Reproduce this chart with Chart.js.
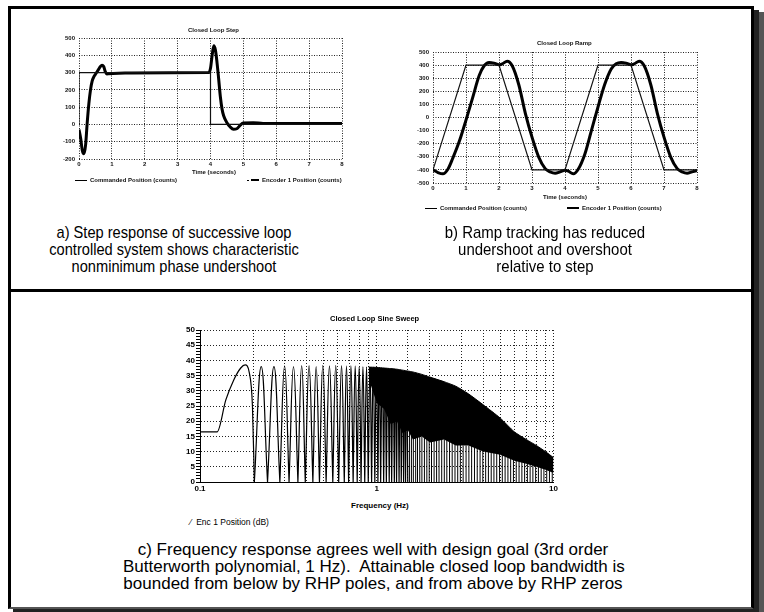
<!DOCTYPE html>
<html>
<head>
<meta charset="utf-8">
<script src="https://cdn.jsdelivr.net/npm/chart.js@4.4.0/dist/chart.umd.min.js"></script>
<style>
html, body { margin: 0; padding: 0; background: #fff; }
body { width: 764px; height: 612px; position: relative; overflow: hidden; font-family: "Liberation Sans", Arial, sans-serif; color: #000; }
#frame { position: absolute; left: 8px; top: 6px; width: 740px; height: 598px; border: 3px solid #000; border-bottom: 2px solid #555; box-shadow: 5px 4px 0 #222, 10px 6px 0 #555; }
#divider { position: absolute; left: 11px; top: 289px; width: 741px; height: 3px; background: #000; }
.cv { position: absolute; }
.cap { position: absolute; text-align: center; font-size: 17px; line-height: 17px; white-space: nowrap; transform-origin: 50% 0; }
.tiny { position: absolute; font-size: 6px; font-weight: bold; white-space: nowrap; color: #111; }
.ln { display: inline-block; vertical-align: middle; background: #000; margin-right: 3px; }
.small { position: absolute; font-size: 7.5px; font-weight: bold; white-space: nowrap; }
</style>
</head>
<body>
<div id="frame"></div>
<div id="divider"></div>

<canvas id="step" class="cv" width="310" height="158" style="left:40px;top:22px"></canvas>
<canvas id="ramp" class="cv" width="310" height="159" style="left:395px;top:36px"></canvas>
<canvas id="sweep" class="cv" width="400" height="176" style="left:160px;top:322px"></canvas>

<div class="tiny" style="left:188px;top:27px">Closed Loop Step</div>
<div class="tiny" style="left:192px;top:169px">Time (seconds)</div>
<div class="tiny" style="left:75px;top:177px"><span class="ln" style="width:12px;height:1px"></span>Commanded Position (counts)</div>
<div class="tiny" style="left:247px;top:177px"><span class="ln" style="width:2px;height:1px;margin-right:2px"></span><span class="ln" style="width:8px;height:2px"></span>Encoder 1 Position (counts)</div>

<div class="tiny" style="left:537px;top:40px">Closed Loop Ramp</div>
<div class="tiny" style="left:543px;top:194px">Time (seconds)</div>
<div class="tiny" style="left:425px;top:205px"><span class="ln" style="width:12px;height:1px"></span>Commanded Position (counts)</div>
<div class="tiny" style="left:567px;top:205px"><span class="ln" style="width:12px;height:2px"></span>Encoder 1 Position (counts)</div>

<div class="small" style="left:330px;top:314px">Closed Loop Sine Sweep</div>
<div class="small" style="left:351px;top:501px;font-size:8px">Frequency (Hz)</div>
<div class="small" style="left:190px;top:517px;font-size:8.5px;font-weight:normal">&#8260; &nbsp;Enc 1 Position (dB)</div>

<div class="cap" style="left:24px;top:224px;width:300px;transform:scaleX(0.86)">a) Step response of successive loop<br>controlled system shows characteristic<br>nonminimum phase undershoot</div>
<div class="cap" style="left:395px;top:224px;width:300px;transform:scaleX(0.88)">b) Ramp tracking has reduced<br>undershoot and overshoot<br>relative to step</div>
<div class="cap" style="left:123px;top:541px;width:500px">c) Frequency response agrees well with design goal (3rd order<br>Butterworth polynomial, 1 Hz).&nbsp; Attainable closed loop bandwidth is<br>bounded from below by RHP poles, and from above by RHP zeros</div>

<script>
// ===== DATA =====
// a) closed loop step
const stepCmdTime = [0, 0, 4, 4, 8];
const stepCmdPos = [0, 300, 300, 0, 0];
const stepEncTime = [0, 0.05, 0.1, 0.15, 0.2, 0.25, 0.3, 0.35, 0.4, 0.45, 0.5, 0.55, 0.6, 0.65, 0.7, 0.75, 0.8, 0.85, 0.9, 1.4, 1.5, 3.95, 4.0, 4.05, 4.1, 4.15, 4.2, 4.25, 4.3, 4.35, 4.4, 4.5, 4.6, 4.7, 4.8, 4.9, 5.0, 5.3, 5.6, 8];
const stepEncPos = [-30, -80, -150, -170, -120, 10, 120, 200, 250, 275, 290, 305, 320, 335, 343, 335, 305, 292, 293, 297, 298, 300, 325, 400, 455, 430, 355, 260, 160, 90, 50, 10, -15, -28, -25, -5, 8, 10, 6, 5];

// b) closed loop ramp
const rampCmdTime = [0, 1, 2, 3, 4, 5, 6, 7, 8];
const rampCmdPos = [-400, 400, 400, -400, -400, 400, 400, -400, -400];
const rampEncTime = [0, 0.15, 0.3, 0.45, 0.6, 0.8, 1.0, 1.2, 1.4, 1.55, 1.7, 1.85, 2.0, 2.1, 2.25, 2.4, 2.6, 2.8, 3.0, 3.2, 3.4, 3.55, 3.7, 3.85, 4.0, 4.1, 4.25, 4.4, 4.6, 4.8, 5.0, 5.2, 5.4, 5.55, 5.7, 5.85, 6.0, 6.1, 6.25, 6.4, 6.6, 6.8, 7.0, 7.2, 7.4, 7.55, 7.7, 7.85, 8.0];
const rampEncPos = [-400, -420, -430, -395, -310, -180, -20, 150, 320, 395, 420, 415, 402, 410, 430, 395, 250, 30, -150, -300, -390, -415, -425, -415, -402, -410, -430, -395, -280, -100, 80, 250, 370, 410, 420, 415, 402, 410, 430, 395, 250, 30, -150, -300, -390, -415, -425, -415, -405];

// c) closed loop sine sweep
const firstLobeHz = [0.1, 0.125, 0.14, 0.155, 0.17, 0.18, 0.19, 0.198, 0.203];
const firstLobeDb = [16.5, 16.5, 27, 33.5, 37.5, 38.5, 36, 25, 0];
const lobeZeroHz = [0.203, 0.241, 0.283, 0.319, 0.358, 0.394, 0.435, 0.474, 0.517, 0.564, 0.609, 0.655, 0.693, 0.735, 0.775, 0.815, 0.855, 0.895, 0.935, 0.975, 1.015, 1.052, 1.094, 1.133, 1.176, 1.214, 1.257, 1.294, 1.337, 1.376, 1.418, 1.455, 1.497];
const lobePeakHz = [0.222, 0.262, 0.301, 0.338, 0.376, 0.414, 0.454, 0.495, 0.540, 0.586, 0.632, 0.674, 0.714, 0.755, 0.795, 0.835, 0.875, 0.915, 0.955, 0.995, 1.033, 1.073, 1.113, 1.155, 1.195, 1.236, 1.275, 1.316, 1.357, 1.397, 1.437, 1.476];
const lobePeakDb = [38, 38, 38.2, 38, 38.3, 38.3, 38, 38.4, 38.2, 38.4, 38.3, 38.2, 38.3, 38.2, 38, 38, 37.9, 37.8, 37.8, 37.7, 37.6, 37.5, 37.4, 37.3, 37.1, 37, 36.9, 36.8, 36.7, 36.6, 36.5, 36.4];
const denseHz = [0.9, 1.0, 1.1, 1.2, 1.3, 1.4, 1.5, 1.6, 1.8, 2.0, 2.4, 2.8, 3.3, 4.0, 5.0, 6.0, 7.0, 8.0, 9.0, 10];
const denseTopDb = [37.8, 37.7, 37.5, 37.3, 37.1, 36.8, 36.5, 36.2, 35.4, 34.5, 33, 31.5, 29, 25.4, 21, 16.5, 14, 12, 10, 8];
const denseLowDb = [34, 26, 24, 19, 20, 16, 17, 14, 15, 13, 14, 12, 12, 10, 9, 7, 6, 5, 4, 3];
const spikeHz = [1.53, 1.57, 1.61, 1.66, 1.70, 1.75, 1.80, 1.86, 1.92, 1.98, 2.04, 2.11, 2.18, 2.25, 2.33, 2.41, 2.49, 2.58, 2.67, 2.77, 2.87, 2.97, 3.08, 3.2, 3.32, 3.44, 3.57, 3.7, 3.84, 3.98, 4.13, 4.28, 4.44, 4.6, 4.77, 4.95, 5.13, 5.32, 5.52, 5.72, 5.93, 6.15, 6.38, 6.62, 6.86, 7.11, 7.37, 7.64, 7.92, 8.21, 8.51, 8.82, 9.15, 9.48, 9.83];
const spikeTopDb = [17, 16, 16, 15, 15, 15, 15, 15, 15, 15, 15, 15, 15, 14, 14, 14, 14, 14, 13, 13, 13, 13, 12, 12, 12, 12, 12, 11, 11, 11, 11, 11, 10, 10, 10, 10, 10, 9, 9, 9, 9, 8, 8, 8, 7, 7, 7, 6, 6, 6, 5, 5, 5, 4, 4];
const sweepLabels = [0.1, 1, 10];

// ===== HELPERS =====
const pts = (xs, ys) => xs.map((x, i) => ({ x: x, y: ys[i] }));
const dotted = '#222';

function timeChart(id, cmd, enc, yMin, yMax, yWidth, xHeight) {
    return new Chart(document.getElementById(id), {
        type: 'line',
        data: {
            datasets: [
                { data: cmd, borderColor: '#111', borderWidth: 1.2, pointRadius: 0, tension: 0 },
                { data: enc, borderColor: '#000', borderWidth: 3, pointRadius: 0, cubicInterpolationMode: 'monotone' }
            ]
        },
        options: {
            responsive: false,
            animation: false,
            layout: { padding: { top: 16, right: 8, left: 0, bottom: 0 } },
            plugins: { legend: { display: false }, tooltip: { enabled: false } },
            scales: {
                x: {
                    type: 'linear', min: 0, max: 8,
                    afterFit: s => { s.height = xHeight; },
                    ticks: { stepSize: 1, padding: 2, color: '#111', font: { size: 6, weight: 'bold' }, maxRotation: 0 },
                    grid: { color: dotted, drawTicks: false },
                    border: { display: false, dash: [1, 1.5] }
                },
                y: {
                    min: yMin, max: yMax,
                    afterFit: s => { s.width = yWidth; },
                    ticks: { stepSize: 100, padding: 4, color: '#111', font: { size: 6, weight: 'bold' } },
                    grid: { color: dotted, drawTicks: false },
                    border: { display: false, dash: [1, 1.5] }
                }
            }
        }
    });
}

timeChart('step', pts(stepCmdTime, stepCmdPos), pts(stepEncTime, stepEncPos), -200, 500, 39, 21);
timeChart('ramp', pts(rampCmdTime, rampCmdPos), pts(rampEncTime, rampEncPos), -500, 500, 38, 12);

// lobes: one arch per lobe, broken with gaps
const lobePts = [];
lobePeakHz.forEach((p, i) => {
    lobePts.push({ x: lobeZeroHz[i], y: 0 }, { x: p, y: lobePeakDb[i] }, { x: lobeZeroHz[i + 1], y: 0 }, { x: p, y: null });
});
const spikePts = [];
spikeHz.forEach((f, i) => {
    spikePts.push({ x: f, y: 0 }, { x: f, y: spikeTopDb[i] }, { x: f, y: null });
});

new Chart(document.getElementById('sweep'), {
    type: 'line',
    data: {
        datasets: [
            { data: pts(denseHz, denseTopDb), borderColor: '#000', borderWidth: 1, backgroundColor: '#000', fill: '+1', pointRadius: 0, tension: 0.2 },
            { data: pts(denseHz, denseLowDb), borderColor: '#000', borderWidth: 0, pointRadius: 0, tension: 0 },
            { data: spikePts, borderColor: '#000', borderWidth: 1, pointRadius: 0, spanGaps: false },
            { data: lobePts, borderColor: '#000', borderWidth: 1.2, pointRadius: 0, tension: 0.45, spanGaps: false },
            { data: pts(firstLobeHz, firstLobeDb), borderColor: '#000', borderWidth: 1.2, pointRadius: 0, cubicInterpolationMode: 'monotone' }
        ]
    },
    options: {
        responsive: false,
        animation: false,
        layout: { padding: { top: 8, right: 6, left: 0, bottom: 0 } },
        plugins: { legend: { display: false }, tooltip: { enabled: false } },
        scales: {
            x: {
                type: 'logarithmic', min: 0.1, max: 10,
                afterFit: s => { s.height = 16; },
                afterBuildTicks: s => { s.ticks = s.ticks.filter(t => t.value >= 0.1 && t.value <= 10); },
                ticks: {
                    autoSkip: false, maxRotation: 0, padding: 2, color: '#000',
                    font: { size: 8, weight: 'bold' },
                    callback: v => sweepLabels.some(l => Math.abs(l - v) < 1e-9) ? String(v) : ''
                },
                grid: { color: c => c.index === 0 ? 'transparent' : dotted, drawTicks: false },
                border: { display: true, color: '#000', width: 1, dash: [1, 2] }
            },
            y: {
                min: 0, max: 50,
                afterFit: s => { s.width = 40; },
                ticks: {
                    stepSize: 1, autoSkip: false, padding: 1, color: '#000',
                    font: { size: 8, weight: 'bold' },
                    callback: v => v % 5 === 0 ? String(v) : ''
                },
                grid: { color: c => (c.tick && c.tick.value % 5 === 0 && c.tick.value > 0) ? dotted : 'transparent', tickColor: '#000', tickLength: 4, drawTicks: true },
                border: { display: true, color: '#000', width: 1, dash: [1, 2] }
            }
        }
    }
});
</script>
</body>
</html>
